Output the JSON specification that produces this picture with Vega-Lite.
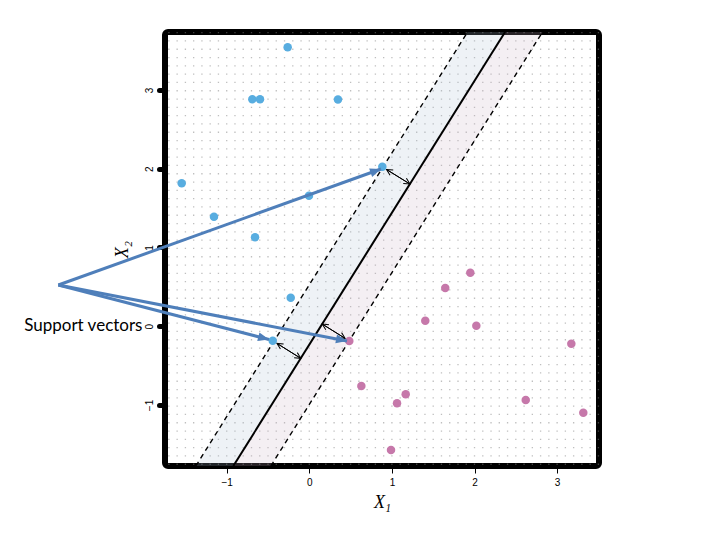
{
  "$schema": "https://vega.github.io/schema/vega-lite/v6.json",
  "width": 434,
  "height": 434,
  "autosize": {"type": "none"},
  "padding": {"left": 165, "top": 32, "right": 121, "bottom": 74},
  "background": "white",
  "config": {
    "view": {"stroke": "black", "strokeWidth": 6, "cornerRadius": 3},
    "axis": {
      "domain": false,
      "grid": false,
      "labelFont": "Liberation Sans",
      "labelFontSize": 10,
      "labelColor": "black",
      "tickColor": "black",
      "titleFont": "Liberation Serif",
      "titleFontStyle": "italic",
      "titleFontWeight": "normal",
      "titleFontSize": 18,
      "titleColor": "black"
    }
  },
  "datasets": {
    "grid": [
      {"x": -1.7}, {"x": -1.6}, {"x": -1.5}, {"x": -1.4}, {"x": -1.3}, {"x": -1.2}, {"x": -1.1}, {"x": -1.0},
      {"x": -0.9}, {"x": -0.8}, {"x": -0.7}, {"x": -0.6}, {"x": -0.5}, {"x": -0.4}, {"x": -0.3}, {"x": -0.2},
      {"x": -0.1}, {"x": 0.0}, {"x": 0.1}, {"x": 0.2}, {"x": 0.3}, {"x": 0.4}, {"x": 0.5}, {"x": 0.6},
      {"x": 0.7}, {"x": 0.8}, {"x": 0.9}, {"x": 1.0}, {"x": 1.1}, {"x": 1.2}, {"x": 1.3}, {"x": 1.4},
      {"x": 1.5}, {"x": 1.6}, {"x": 1.7}, {"x": 1.8}, {"x": 1.9}, {"x": 2.0}, {"x": 2.1}, {"x": 2.2},
      {"x": 2.3}, {"x": 2.4}, {"x": 2.5}, {"x": 2.6}, {"x": 2.7}, {"x": 2.8}, {"x": 2.9}, {"x": 3.0},
      {"x": 3.1}, {"x": 3.2}, {"x": 3.3}, {"x": 3.4}, {"x": 3.5}
    ],
    "bandL": [
      {"y": -1.775, "x": -1.374, "x2": -0.92},
      {"y": 3.736, "x": 1.916, "x2": 2.37}
    ],
    "bandR": [
      {"y": -1.775, "x": -0.92, "x2": -0.466},
      {"y": 3.736, "x": 2.37, "x2": 2.823}
    ],
    "hyper": [
      {"kind": "solid", "x": -0.92, "y": -1.775, "x2": 2.37, "y2": 3.736},
      {"kind": "dashed", "x": -1.374, "y": -1.775, "x2": 1.916, "y2": 3.736},
      {"kind": "dashed", "x": -0.466, "y": -1.775, "x2": 2.823, "y2": 3.736}
    ],
    "points": [
      {"x": -0.262, "y": 3.541, "cls": "blue"},
      {"x": -0.690, "y": 2.881, "cls": "blue"},
      {"x": -0.597, "y": 2.881, "cls": "blue"},
      {"x": 0.347, "y": 2.880, "cls": "blue"},
      {"x": -1.545, "y": 1.815, "cls": "blue"},
      {"x": -0.004, "y": 1.657, "cls": "blue"},
      {"x": -1.154, "y": 1.391, "cls": "blue"},
      {"x": -0.657, "y": 1.129, "cls": "blue"},
      {"x": -0.225, "y": 0.362, "cls": "blue"},
      {"x": 0.884, "y": 2.025, "cls": "blue"},
      {"x": -0.443, "y": -0.184, "cls": "blue"},
      {"x": 1.949, "y": 0.679, "cls": "pink"},
      {"x": 1.646, "y": 0.485, "cls": "pink"},
      {"x": 1.404, "y": 0.070, "cls": "pink"},
      {"x": 2.022, "y": 0.006, "cls": "pink"},
      {"x": 3.172, "y": -0.222, "cls": "pink"},
      {"x": 0.630, "y": -0.759, "cls": "pink"},
      {"x": 1.167, "y": -0.865, "cls": "pink"},
      {"x": 1.062, "y": -0.979, "cls": "pink"},
      {"x": 2.620, "y": -0.937, "cls": "pink"},
      {"x": 3.317, "y": -1.098, "cls": "pink"},
      {"x": 0.989, "y": -1.572, "cls": "pink"},
      {"x": 0.484, "y": -0.188, "cls": "pink"}
    ],
    "margins": [
      {"x": 1.218, "y": 1.806, "x2": 0.935, "y2": 1.990},
      {"x": 0.935, "y": 1.990, "x2": 1.218, "y2": 1.806},
      {"x": -0.103, "y": -0.408, "x2": -0.392, "y2": -0.218},
      {"x": -0.392, "y": -0.218, "x2": -0.103, "y2": -0.408},
      {"x": 0.157, "y": 0.027, "x2": 0.433, "y2": -0.154},
      {"x": 0.433, "y": -0.154, "x2": 0.157, "y2": 0.027}
    ],
    "arrows": [
      {"x": 0.868, "y": 1.996, "x2": -3.038, "y2": 0.523},
      {"x": -0.488, "y": -0.169, "x2": -3.038, "y2": 0.523},
      {"x": 0.456, "y": -0.188, "x2": -3.038, "y2": 0.523}
    ],
    "label": [
      {"x": -2.02, "y": 0.0, "label": "Support vectors"}
    ]
  },
  "encoding": {
    "x": {
      "field": "x",
      "type": "quantitative",
      "scale": {"domain": [-1.747, 3.507], "nice": false, "zero": false},
      "axis": {"title": "X₁", "values": [-1, 0, 1, 2, 3], "tickSize": 7, "tickWidth": 1, "labelPadding": 4, "titlePadding": 6}
    },
    "y": {
      "field": "y",
      "type": "quantitative",
      "scale": {"domain": [-1.775, 3.736], "nice": false, "zero": false},
      "axis": {"title": "X₂", "values": [-1, 0, 1, 2, 3], "tickSize": 6, "tickWidth": 5, "tickCap": "round", "labelAngle": 270, "labelPadding": 5, "titlePadding": 13}
    }
  },
  "layer": [
    {
      "data": {"name": "grid"},
      "mark": {"type": "rule", "color": "#808080", "strokeWidth": 1.3, "strokeDash": [1.3, 7], "opacity": 0.5},
      "encoding": {"y": null}
    },
    {
      "data": {"name": "bandL"},
      "mark": {"type": "area", "orient": "horizontal", "color": "#a9bcd3", "opacity": 0.2},
      "encoding": {"x2": {"field": "x2"}}
    },
    {
      "data": {"name": "bandR"},
      "mark": {"type": "area", "orient": "horizontal", "color": "#c9adc2", "opacity": 0.2},
      "encoding": {"x2": {"field": "x2"}}
    },
    {
      "data": {"name": "hyper"},
      "transform": [{"filter": "datum.kind === 'solid'"}],
      "mark": {"type": "rule", "color": "black", "strokeWidth": 2},
      "encoding": {"x2": {"field": "x2"}, "y2": {"field": "y2"}}
    },
    {
      "data": {"name": "hyper"},
      "transform": [{"filter": "datum.kind === 'dashed'"}],
      "mark": {"type": "rule", "color": "black", "strokeWidth": 1.4, "strokeDash": [5, 4]},
      "encoding": {"x2": {"field": "x2"}, "y2": {"field": "y2"}}
    },
    {
      "data": {"name": "margins"},
      "mark": {"type": "rule", "color": "black", "strokeWidth": 1},
      "encoding": {"x2": {"field": "x2"}, "y2": {"field": "y2"}}
    },
    {
      "data": {"name": "margins"},
      "transform": [{"calculate": "atan2(-(datum.y - datum.y2) * 78.75, (datum.x - datum.x2) * 82.6) * 180 / PI", "as": "ang"}],
      "mark": {"type": "point", "shape": "M -2 -1 L 0 0 L -2 1", "filled": false, "stroke": "black", "strokeWidth": 1, "size": 36, "opacity": 1},
      "encoding": {"angle": {"field": "ang", "type": "quantitative", "scale": null}}
    },
    {
      "data": {"name": "points"},
      "mark": {"type": "point", "shape": "circle", "filled": true, "size": 72, "opacity": 1},
      "encoding": {
        "color": {"field": "cls", "type": "nominal", "scale": {"domain": ["blue", "pink"], "range": ["#58ade0", "#c678aa"]}, "legend": null}
      }
    },
    {
      "data": {"name": "arrows"},
      "mark": {"type": "rule", "color": "#4f7fba", "strokeWidth": 3},
      "encoding": {"x2": {"field": "x2"}, "y2": {"field": "y2"}}
    },
    {
      "data": {"name": "arrows"},
      "transform": [{"calculate": "atan2(-(datum.y - datum.y2) * 78.75, (datum.x - datum.x2) * 82.6) * 180 / PI", "as": "ang"}],
      "mark": {"type": "point", "shape": "M -2 -0.8 L 0 0 L -2 0.8 Z", "filled": true, "color": "#4f7fba", "size": 121, "opacity": 1},
      "encoding": {"angle": {"field": "ang", "type": "quantitative", "scale": null}}
    },
    {
      "data": {"name": "label"},
      "mark": {"type": "text", "align": "right", "baseline": "middle", "font": "Lato", "fontSize": 17, "color": "black"},
      "encoding": {"text": {"field": "label"}}
    }
  ]
}
